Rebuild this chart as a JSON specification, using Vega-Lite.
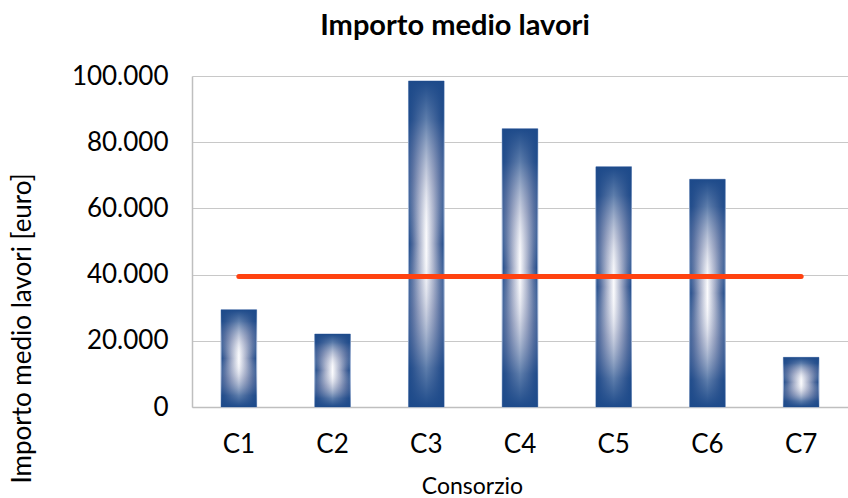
{
  "$schema": "https://vega.github.io/schema/vega-lite/v6.json",
  "autosize": {"type": "fit", "contains": "padding"},
  "width": 848,
  "height": 498,
  "padding": {"left": 9, "top": 12, "right": 0, "bottom": 0},
  "background": "#ffffff",
  "title": {
    "text": "Importo medio lavori",
    "font": "Lato",
    "fontSize": 29,
    "fontWeight": "bold",
    "color": "#000000",
    "anchor": "middle",
    "dx": -65,
    "offset": 22
  },
  "data": {
    "values": [
      {"consorzio": "C1", "importo": 29400, "media": 39400},
      {"consorzio": "C2", "importo": 22050, "media": 39400},
      {"consorzio": "C3", "importo": 98500, "media": 39400},
      {"consorzio": "C4", "importo": 84100, "media": 39400},
      {"consorzio": "C5", "importo": 72600, "media": 39400},
      {"consorzio": "C6", "importo": 68800, "media": 39400},
      {"consorzio": "C7", "importo": 15000, "media": 39400}
    ]
  },
  "encoding": {
    "x": {
      "field": "consorzio",
      "type": "nominal",
      "sort": null,
      "scale": {"paddingInner": 0.62, "paddingOuter": 0.31},
      "axis": {
        "title": "Consorzio",
        "titleFont": "Lato",
        "titleFontSize": 23,
        "titleFontWeight": "normal",
        "titleColor": "#000000",
        "titlePadding": 18,
        "titleX": 280,
        "titleAlign": "center",
        "labelFont": "Lato",
        "labelFontSize": 26,
        "labelColor": "#000000",
        "labelAngle": 0,
        "labelPadding": 24,
        "ticks": false,
        "domainColor": "#bfbfbf",
        "domainWidth": 1.5,
        "grid": false
      }
    }
  },
  "layer": [
    {
      "mark": {
        "type": "bar",
        "stroke": "#9fb3d4",
        "strokeWidth": 1,
        "color": {
          "gradient": "linear",
          "x1": 0, "y1": 0, "x2": 1, "y2": 0,
          "stops": [
            {"offset": 0, "color": "#1d4a8a"},
            {"offset": 0.12, "color": "#4f6a9c"},
            {"offset": 0.3, "color": "#a6afc9"},
            {"offset": 0.5, "color": "#fbfbfd"},
            {"offset": 0.7, "color": "#a6afc9"},
            {"offset": 0.88, "color": "#4f6a9c"},
            {"offset": 1, "color": "#1d4a8a"}
          ]
        }
      },
      "encoding": {
        "y": {
          "field": "importo",
          "type": "quantitative",
          "scale": {"domain": [0, 100000], "nice": false},
          "axis": {
            "title": "Importo medio lavori [euro]",
            "titleFont": "Lato",
            "titleFontSize": 26,
            "titleFontWeight": "normal",
            "titleColor": "#000000",
            "titlePadding": 36,
            "titleY": 252,
            "titleAlign": "center",
            "labelFont": "Lato",
            "labelFontSize": 26,
            "labelColor": "#000000",
            "labelPadding": 24,
            "values": [0, 20000, 40000, 60000, 80000, 100000],
            "labelExpr": "replace(format(datum.value, ',d'), ',', '.')",
            "ticks": false,
            "domainColor": "#bfbfbf",
            "domainWidth": 1.5,
            "grid": true,
            "gridColor": "#c8c8c8",
            "gridWidth": 1.2
          }
        }
      }
    },
    {
      "mark": {
        "type": "bar",
        "color": {
          "gradient": "linear",
          "x1": 0, "y1": 0, "x2": 0, "y2": 1,
          "stops": [
            {"offset": 0, "color": "rgba(29,74,138,1)"},
            {"offset": 0.12, "color": "rgba(29,74,138,0.7)"},
            {"offset": 0.3, "color": "rgba(120,135,175,0.35)"},
            {"offset": 0.5, "color": "rgba(255,255,255,0)"},
            {"offset": 0.7, "color": "rgba(120,135,175,0.35)"},
            {"offset": 0.88, "color": "rgba(29,74,138,0.7)"},
            {"offset": 1, "color": "rgba(29,74,138,1)"}
          ]
        }
      },
      "encoding": {
        "y": {"field": "importo", "type": "quantitative"}
      }
    },
    {
      "mark": {
        "type": "line",
        "color": "#ff4210",
        "strokeWidth": 5,
        "strokeCap": "round"
      },
      "encoding": {
        "y": {"field": "media", "type": "quantitative"}
      }
    }
  ],
  "config": {
    "view": {"stroke": null}
  }
}
